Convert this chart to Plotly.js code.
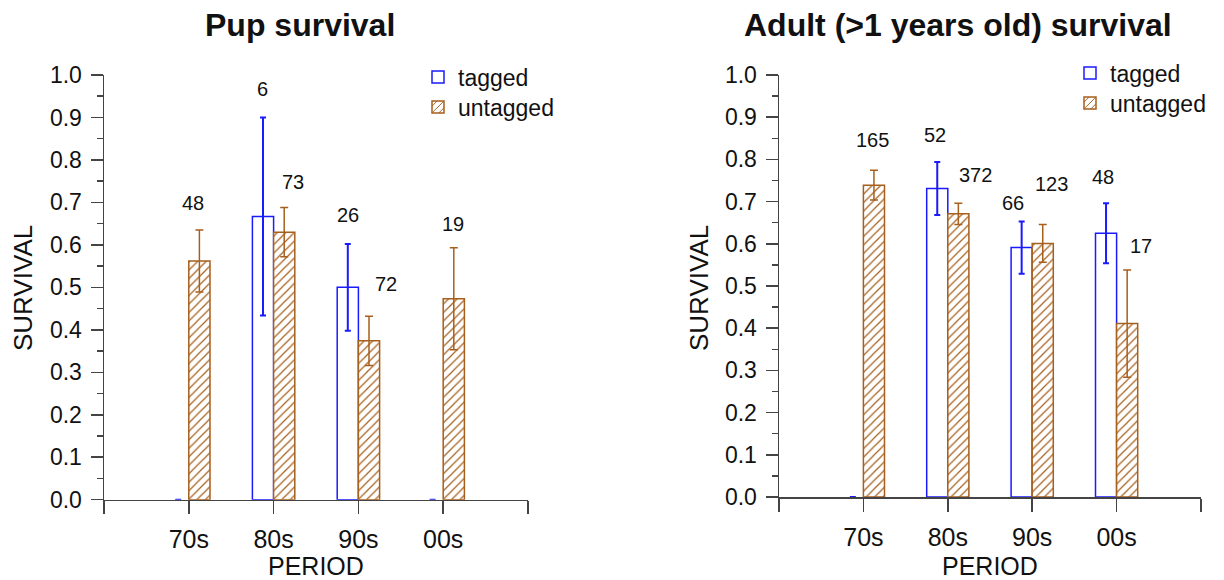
<!DOCTYPE html>
<html>
<head>
<meta charset="utf-8">
<script src="https://cdn.plot.ly/plotly-3.0.1.min.js"></script>
<style>html,body{margin:0;padding:0;background:#fff;}#chart{width:1224px;height:580px;}</style>
</head>
<body>
<div id="chart"></div>
<script>
// ---- data ----
const periods = ['70s', '80s', '90s', '00s'];

const pupTagged = [0, 0.667, 0.500, 0];
const pupTaggedErr = [0, 0.233, 0.102, 0];
const pupUntagged = [0.562, 0.630, 0.374, 0.473];
const pupUntaggedErr = [0.073, 0.058, 0.058, 0.120];
const pupCounts = ['48', '6', '73', '26', '72', '19'];

const adultTagged = [0, 0.731, 0.591, 0.625];
const adultTaggedErr = [0, 0.063, 0.062, 0.071];
const adultUntagged = [0.739, 0.671, 0.601, 0.411];
const adultUntaggedErr = [0.035, 0.025, 0.045, 0.127];
const adultCounts = ['165', '52', '372', '66', '123', '48', '17'];

// ---- layout helpers (positions / styles) ----
const W = 1224, H = 580;
const FONT = 'Arial, "Liberation Sans", Helvetica, sans-serif';
const BLUE = '#1a1aff';
const BROWN = '#a65f1c';
const AXC = '#444444';
const pos = periods.map((_, i) => i + 1);

const pupLabelPos = [[1.05, 0.698], [1.874, 0.966], [2.227, 0.747], [2.879, 0.670], [3.321, 0.507], [4.121, 0.648]];
const adultLabelPos = [[1.103, 0.846], [1.849, 0.857], [2.326, 0.763], [2.776, 0.696], [3.23, 0.742], [3.84, 0.758], [4.285, 0.595]];

// order points so that a drawn (non-zero) bar comes first (legend symbol takes its style)
function order(vals) {
  const idx = vals.map((_, i) => i);
  return idx.filter(i => vals[i] > 0).concat(idx.filter(i => !(vals[i] > 0)));
}
function pick(arr, ord) { return ord.map(i => arr[i]); }

function taggedTrace(y, err, xa, ya, leg) {
  const o = order(y);
  const yy = pick(y, o);
  return {
    type: 'bar', name: 'tagged', x: pick(pos, o), y: yy, xaxis: xa, yaxis: ya,
    legend: leg, showlegend: true, offsetgroup: 't',
    marker: {color: '#ffffff', line: {color: BLUE, width: yy.map(v => (v > 0 ? 1.5 : 0))}},
    error_y: {type: 'data', array: pick(err, o), visible: true, color: BLUE, thickness: 2, width: 3},
    hoverinfo: 'y'
  };
}
function untaggedTrace(y, err, xa, ya, leg) {
  return {
    type: 'bar', name: 'untagged', x: pos, y: y, xaxis: xa, yaxis: ya,
    legend: leg, showlegend: true, offsetgroup: 'u',
    marker: {color: '#ffffff', line: {color: BROWN, width: 1.5},
      pattern: {shape: '/', fgcolor: BROWN, bgcolor: '#ffffff', size: 6, solidity: 0.2}},
    error_y: {type: 'data', array: err, visible: true, color: BROWN, thickness: 1.5, width: 4},
    hoverinfo: 'y'
  };
}

const data = [
  taggedTrace(pupTagged, pupTaggedErr, 'x', 'y', 'legend'),
  untaggedTrace(pupUntagged, pupUntaggedErr, 'x', 'y', 'legend2'),
  taggedTrace(adultTagged, adultTaggedErr, 'x2', 'y2', 'legend3'),
  untaggedTrace(adultUntagged, adultUntaggedErr, 'x2', 'y2', 'legend4')
];

function xAxis(d0, d1, anchor) {
  return {
    domain: [d0 / W, d1 / W], anchor: anchor, range: [0, 5],
    tickvals: [0, 1, 2, 3, 4, 5], ticktext: [''].concat(periods, ['']),
    ticks: 'outside', ticklen: 13, tickwidth: 1.5, tickcolor: AXC,
    showline: true, linecolor: AXC, linewidth: 1.5,
    showgrid: false, zeroline: false, ticklabelstandoff: 4,
    tickfont: {family: FONT, size: 25, color: '#111'}, fixedrange: true
  };
}
function yAxis(top, bottom, anchor) {
  return {
    domain: [1 - bottom / H, 1 - top / H], anchor: anchor, range: [0, 1],
    tick0: 0, dtick: 0.1, tickformat: '.1f',
    ticks: 'outside', ticklen: 12, tickwidth: 1.5, tickcolor: AXC,
    minor: {dtick: 0.05, ticks: 'outside', ticklen: 6, tickwidth: 1.5, tickcolor: AXC},
    showline: true, linecolor: AXC, linewidth: 1.5,
    showgrid: false, zeroline: false, ticklabelstandoff: 4,
    tickfont: {family: FONT, size: 23, color: '#111'}, fixedrange: true
  };
}

const annotations = [];
function addLabels(counts, lp, xr, yr) {
  counts.forEach((t, i) => annotations.push({
    text: t, x: lp[i][0], y: lp[i][1], xref: xr, yref: yr,
    showarrow: false, xanchor: 'center', yanchor: 'middle',
    font: {family: FONT, size: 20, color: '#111'}
  }));
}
addLabels(pupCounts, pupLabelPos, 'x', 'y');
addLabels(adultCounts, adultLabelPos, 'x2', 'y2');

function paperText(text, px, py, size, opts) {
  annotations.push(Object.assign({
    text: text, x: px / W, y: 1 - py / H, xref: 'paper', yref: 'paper',
    showarrow: false, xanchor: 'center', yanchor: 'middle',
    font: {family: FONT, size: size, color: '#111'}
  }, opts || {}));
}
paperText('<b>Pup survival</b>', 300, 25, 32);
paperText('<b>Adult (>1 years old) survival</b>', 958, 25, 32);
paperText('PERIOD', 316, 566, 25);
paperText('PERIOD', 990, 566, 25);
paperText('SURVIVAL', 23, 288, 26, {textangle: -90});
paperText('SURVIVAL', 699, 288, 26, {textangle: -90});

function legendAt(px, py) {
  return {
    x: px / W, y: 1 - py / H, xanchor: 'left', yanchor: 'middle',
    bgcolor: 'rgba(0,0,0,0)', borderwidth: 0,
    font: {family: FONT, size: 23, color: '#111'}
  };
}

const layout = {
  width: W, height: H,
  margin: {l: 0, r: 0, t: 0, b: 0},
  paper_bgcolor: '#ffffff', plot_bgcolor: '#ffffff',
  barmode: 'group', bargap: 0.5, bargroupgap: 0,
  xaxis: xAxis(104, 528, 'y'),
  yaxis: yAxis(75, 499.7, 'x'),
  xaxis2: xAxis(779, 1201, 'y2'),
  yaxis2: yAxis(75, 497, 'x2'),
  legend: legendAt(418, 77),
  legend2: legendAt(418, 107),
  legend3: legendAt(1070, 73),
  legend4: legendAt(1070, 103),
  annotations: annotations,
  showlegend: true
};

Plotly.newPlot('chart', data, layout, {displayModeBar: false, staticPlot: true});
</script>
</body>
</html>
